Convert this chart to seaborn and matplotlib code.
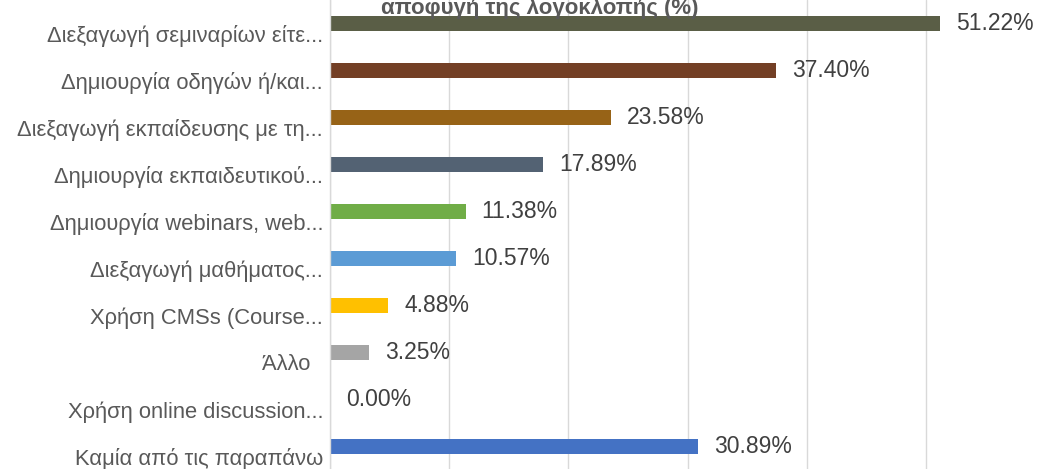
import matplotlib
matplotlib.use("Agg")
import matplotlib.pyplot as plt
import matplotlib.transforms as mtransforms
import pandas as pd
import seaborn as sns

# dati
categorie = [
    "Διεξαγωγή σεμιναρίων είτε...",
    "Δημιουργία οδηγών ή/και...",
    "Διεξαγωγή εκπαίδευσης με τη...",
    "Δημιουργία εκπαιδευτικού...",
    "Δημιουργία webinars, web...",
    "Διεξαγωγή μαθήματος...",
    "Χρήση CMSs (Course...",
    "Άλλο  ",
    "Χρήση online discussion...",
    "Καμία από τις παραπάνω",
]
percentuali = [51.22, 37.40, 23.58, 17.89, 11.38, 10.57, 4.88, 3.25, 0.00, 30.89]
colori = ["#5A5E46", "#733F25", "#976317", "#536273", "#70AD47",
          "#5B9BD5", "#FFC000", "#A5A5A5", "#ED7D31", "#4472C4"]
titolo = "αποφυγή της λογοκλοπής (%)"

sns.set_style("white")
plt.rcParams["font.family"] = ["Liberation Sans", "DejaVu Sans"]

df = pd.DataFrame({"categoria": categorie, "valore": percentuali})

fig = plt.figure(figsize=(10.4, 4.69), dpi=100)
ax = fig.add_axes([330 / 1040, -1 / 469, 715 / 1040, 470 / 469])

sns.barplot(data=df, x="valore", y="categoria", hue="categoria",
            palette=colori, orient="h", width=0.34, legend=False,
            dodge=False, ax=ax, saturation=1, linewidth=0)

ax.set_xlim(0, 60)
ax.set_ylim(9.5, -0.5)
ax.set_xticks([0, 10, 20, 30, 40, 50, 60])
ax.xaxis.grid(True, color="#d9d9d9", linewidth=1.0)
ax.set_axisbelow(True)
ax.tick_params(axis="both", length=0)
ax.tick_params(axis="y", pad=5, labelsize=15.8, labelcolor="#595959")
ax.set_xticklabels([])
ax.set_xlabel("")
ax.set_ylabel("")
for s in ["top", "right", "bottom"]:
    ax.spines[s].set_visible(False)
ax.spines["left"].set_color("#d9d9d9")
ax.spines["left"].set_linewidth(1.0)

# etichette spostate un po' in basso, come in Excel
shift = mtransforms.ScaledTranslation(0, -10 / 100, fig.dpi_scale_trans)
for lab in ax.get_yticklabels():
    lab.set_transform(lab.get_transform() + shift)

for cont in ax.containers:
    ax.bar_label(cont, fmt="%.2f%%", padding=11.5, fontsize=16.5, color="#404040")

fig.text(540 / 1040, 1 - 14 / 469, titolo, ha="center", va="baseline",
         fontsize=16, fontweight="bold", color="#595959")

fig.savefig("out.png", dpi=100)
